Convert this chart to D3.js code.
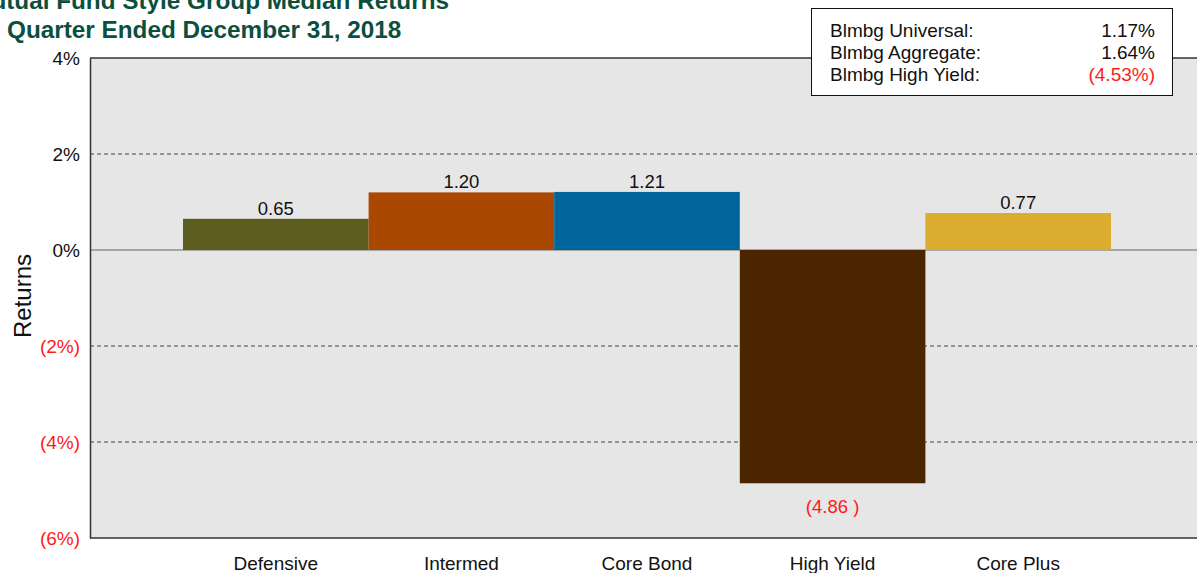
<!DOCTYPE html>
<html>
<head>
<meta charset="utf-8">
<script src="https://cdn.jsdelivr.net/npm/d3@7"></script>
<style>
  body { margin: 0; background: #fff; }
  svg { display: block; font-family: "Liberation Sans", Arial, sans-serif; }
</style>
</head>
<body>
<div id="chart"></div>
<script>
// data
var categories = ["Defensive", "Intermed", "Core Bond", "High Yield", "Core Plus"];
var returns = [0.65, 1.20, 1.21, -4.86, 0.77];
var barColors = ["#5c5d1f", "#aa4700", "#00659b", "#4a2500", "#dcac30"];
var tickValues = [4, 2, 0, -2, -4, -6];
var indexNames = ["Blmbg Universal:", "Blmbg Aggregate:", "Blmbg High Yield:"];
var indexValues = [1.17, 1.64, -4.53];
var titleLines = ["Mutual Fund Style Group Median Returns", "Quarter Ended December 31, 2018"];

var drawChart = function () {
    const width = 1197, height = 573;
    const plotLeft = 90, plotRight = 1197, plotTop = 58, plotBottom = 538;
    const red = "#ff1a1a";

    var fmtTick = function (v) { return v < 0 ? "(" + Math.abs(v) + "%)" : v + "%"; };

    var svg = d3.select("#chart").append("svg")
        .attr("width", width)
        .attr("height", height);

    var y = d3.scaleLinear().domain([-6, 4]).range([plotBottom, plotTop]);
    var x = d3.scaleBand().domain(categories).range([183, 1111]).padding(0);

    // plot background
    svg.append("rect")
        .attr("x", plotLeft).attr("y", plotTop)
        .attr("width", plotRight - plotLeft).attr("height", plotBottom - plotTop)
        .attr("fill", "#e6e6e6");

    // dashed gridlines
    svg.append("g").selectAll("line")
        .data(tickValues.filter(function (d) { return d !== 0 && d !== 4 && d !== -6; }))
        .join("line")
        .attr("x1", plotLeft).attr("x2", plotRight)
        .attr("y1", function (d) { return y(d); }).attr("y2", function (d) { return y(d); })
        .attr("stroke", "#444").attr("stroke-width", 1)
        .attr("stroke-dasharray", "4,3");

    // zero line
    svg.append("line")
        .attr("x1", plotLeft).attr("x2", plotRight)
        .attr("y1", y(0)).attr("y2", y(0))
        .attr("stroke", "#666").attr("stroke-width", 1);

    // bars
    svg.append("g").selectAll("rect")
        .data(returns)
        .join("rect")
        .attr("x", function (d, i) { return x(categories[i]); })
        .attr("width", x.bandwidth())
        .attr("y", function (d) { return y(Math.max(0, d)); })
        .attr("height", function (d) { return Math.abs(y(d) - y(0)); })
        .attr("fill", function (d, i) { return barColors[i]; });

    // value labels
    svg.append("g").selectAll("text")
        .data(returns)
        .join("text")
        .attr("x", function (d, i) { return x(categories[i]) + x.bandwidth() / 2; })
        .attr("y", function (d) { return d >= 0 ? y(d) - 4 : y(d) + 30; })
        .attr("text-anchor", "middle")
        .attr("font-size", 18.5)
        .attr("fill", function (d) { return d < 0 ? red : "#111"; })
        .text(function (d) { return d < 0 ? "(" + Math.abs(d).toFixed(2) + " )" : d.toFixed(2); });

    // frame lines: top, bottom
    svg.append("line").attr("x1", plotLeft).attr("x2", plotRight)
        .attr("y1", plotTop).attr("y2", plotTop)
        .attr("stroke", "#333").attr("stroke-width", 1.5);
    svg.append("line").attr("x1", plotLeft).attr("x2", plotRight)
        .attr("y1", plotBottom).attr("y2", plotBottom)
        .attr("stroke", "#333").attr("stroke-width", 1.5);

    // y axis
    var yAxis = svg.append("g")
        .attr("transform", "translate(" + plotLeft + ",0)")
        .call(d3.axisLeft(y).tickValues(tickValues).tickSize(0).tickPadding(10).tickFormat(fmtTick));
    yAxis.select(".domain").attr("stroke", "#333").attr("stroke-width", 1.5);
    yAxis.selectAll("text")
        .attr("font-family", "Liberation Sans, Arial, sans-serif")
        .attr("font-size", 19)
        .attr("fill", function (d) { return d < 0 ? red : "#111"; });

    // x axis labels
    svg.append("g").selectAll("text")
        .data(categories)
        .join("text")
        .attr("x", function (d) { return x(d) + x.bandwidth() / 2; })
        .attr("y", 570)
        .attr("text-anchor", "middle")
        .attr("font-size", 19)
        .attr("fill", "#111")
        .text(function (d) { return d; });

    // y axis title
    svg.append("text")
        .attr("transform", "translate(31,296) rotate(-90)")
        .attr("text-anchor", "middle")
        .attr("font-size", 24)
        .attr("fill", "#111")
        .text("Returns");

    // title (first line runs off the top-left, as in the source)
    svg.append("g").selectAll("text")
        .data(titleLines)
        .join("text")
        .attr("x", function (d, i) { return i === 0 ? 449 : 7; })
        .attr("y", function (d, i) { return 9 + i * 29; })
        .attr("text-anchor", function (d, i) { return i === 0 ? "end" : "start"; })
        .attr("font-size", 24.3)
        .attr("font-weight", "bold")
        .attr("fill", "#0b4f3e")
        .text(function (d) { return d; });

    // index box
    var box = svg.append("g");
    box.append("rect")
        .attr("x", 811.5).attr("y", 8.5)
        .attr("width", 361).attr("height", 87)
        .attr("fill", "#fff").attr("stroke", "#111").attr("stroke-width", 1);
    box.selectAll("text.name")
        .data(indexNames)
        .join("text")
        .attr("class", "name")
        .attr("x", 830)
        .attr("y", function (d, i) { return 37 + i * 22; })
        .attr("font-size", 19)
        .attr("fill", "#111")
        .text(function (d) { return d; });
    box.selectAll("text.val")
        .data(indexValues)
        .join("text")
        .attr("class", "val")
        .attr("x", 1155)
        .attr("y", function (d, i) { return 37 + i * 22; })
        .attr("text-anchor", "end")
        .attr("font-size", 19)
        .attr("fill", function (d) { return d < 0 ? red : "#111"; })
        .text(function (d) { return d < 0 ? "(" + Math.abs(d).toFixed(2) + "%)" : d.toFixed(2) + "%"; });
};

window.addEventListener("load", drawChart);
</script>
</body>
</html>
